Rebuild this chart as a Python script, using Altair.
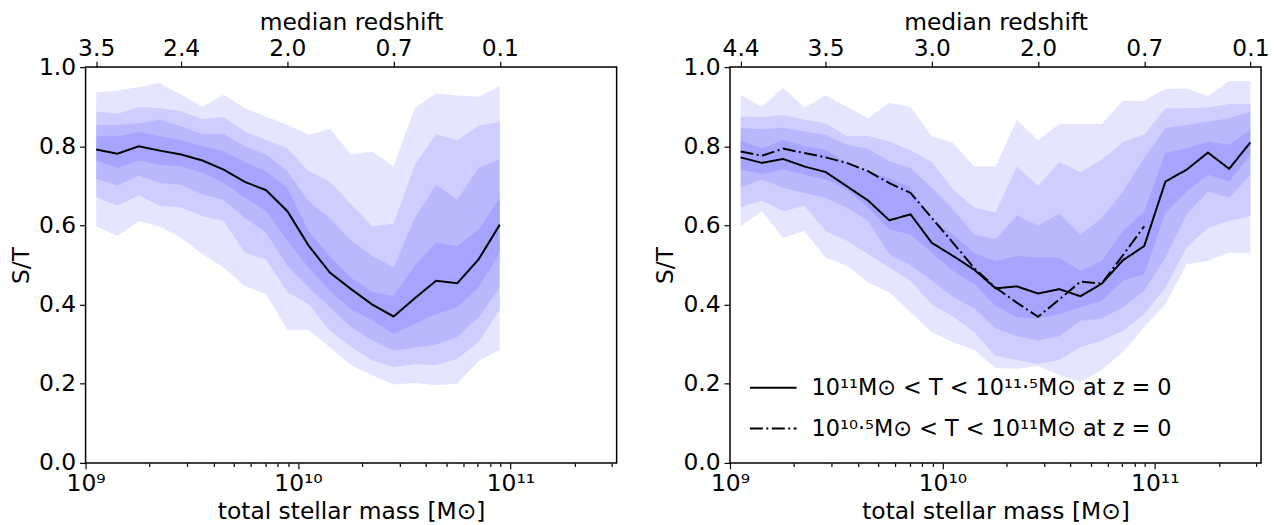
import altair as alt
import pandas as pd
import numpy as np

FONT = "DejaVu Sans"
FS = 23.5
LFS = 22.5

# ---------------- data ----------------
# log10 of total stellar mass (bin centres)
xL = [9.05, 9.15, 9.25, 9.35, 9.45, 9.55, 9.65, 9.75, 9.85, 9.95,
      10.05, 10.15, 10.25, 10.35, 10.45, 10.55, 10.65, 10.75, 10.85, 10.95]
xR = [9.05, 9.15, 9.25, 9.35, 9.45, 9.55, 9.65, 9.75, 9.85, 9.95,
      10.05, 10.15, 10.25, 10.35, 10.45, 10.55, 10.65, 10.75, 10.85, 10.95,
      11.05, 11.15, 11.25, 11.35, 11.45]

# left panel: median and percentile bands (upper/lower edges, outer -> inner)
medL = [0.792, 0.781, 0.800, 0.789, 0.779, 0.764, 0.741, 0.710, 0.689, 0.636,
        0.549, 0.481, 0.439, 0.400, 0.370, 0.416, 0.460, 0.454, 0.514, 0.602]
b1uL = [0.936, 0.941, 0.950, 0.960, 0.930, 0.900, 0.930, 0.896, 0.875, 0.854,
        0.829, 0.844, 0.779, 0.787, 0.749, 0.896, 0.934, 0.928, 0.925, 0.952]
b2uL = [0.888, 0.882, 0.899, 0.896, 0.889, 0.868, 0.874, 0.837, 0.816, 0.795,
        0.737, 0.711, 0.653, 0.598, 0.604, 0.753, 0.831, 0.815, 0.852, 0.862]
b3uL = [0.854, 0.854, 0.858, 0.867, 0.850, 0.831, 0.831, 0.800, 0.779, 0.737,
        0.661, 0.619, 0.561, 0.523, 0.494, 0.619, 0.703, 0.665, 0.745, 0.768]
b4uL = [0.825, 0.825, 0.836, 0.825, 0.815, 0.800, 0.787, 0.760, 0.737, 0.695,
        0.586, 0.523, 0.468, 0.431, 0.422, 0.498, 0.556, 0.548, 0.590, 0.670]
b4lL = [0.764, 0.745, 0.764, 0.753, 0.749, 0.733, 0.707, 0.670, 0.636, 0.561,
        0.494, 0.435, 0.388, 0.360, 0.326, 0.351, 0.376, 0.393, 0.443, 0.531]
b3lL = [0.718, 0.701, 0.726, 0.707, 0.703, 0.678, 0.665, 0.619, 0.582, 0.498,
        0.443, 0.393, 0.343, 0.309, 0.284, 0.291, 0.299, 0.318, 0.368, 0.443]
b2lL = [0.671, 0.650, 0.676, 0.650, 0.645, 0.623, 0.611, 0.531, 0.514, 0.431,
        0.401, 0.334, 0.292, 0.259, 0.242, 0.250, 0.247, 0.263, 0.305, 0.388]
b1lL = [0.598, 0.573, 0.611, 0.597, 0.569, 0.527, 0.494, 0.447, 0.426, 0.336,
        0.336, 0.292, 0.247, 0.221, 0.198, 0.202, 0.196, 0.200, 0.257, 0.286]

# right panel
medR_hi = [0.772, 0.758, 0.768, 0.749, 0.735, 0.699, 0.663, 0.613, 0.628, 0.556,
           0.523, 0.488, 0.441, 0.446, 0.428, 0.439, 0.421, 0.453, 0.512, 0.548,
           0.711, 0.741, 0.784, 0.743, 0.810]
medR_lo = [0.787, 0.776, 0.794, 0.783, 0.772, 0.758, 0.737, 0.707, 0.682, 0.619,
           0.556, 0.492, 0.443, 0.405, 0.369, 0.413, 0.458, 0.453, 0.525, 0.598]
b1uR = [0.930, 0.900, 0.948, 0.898, 0.928, 0.900, 0.871, 0.909, 0.900, 0.825,
        0.808, 0.749, 0.749, 0.867, 0.816, 0.856, 0.856, 0.856, 0.915, 0.915,
        0.945, 0.946, 0.927, 0.965, 0.965]
b2uR = [0.875, 0.873, 0.879, 0.867, 0.858, 0.826, 0.826, 0.812, 0.790, 0.760,
        0.690, 0.645, 0.632, 0.749, 0.700, 0.760, 0.735, 0.766, 0.810, 0.830,
        0.896, 0.896, 0.898, 0.907, 0.906]
b3uR = [0.846, 0.843, 0.847, 0.837, 0.829, 0.804, 0.794, 0.762, 0.745, 0.695,
        0.640, 0.577, 0.565, 0.625, 0.600, 0.630, 0.577, 0.619, 0.686, 0.770,
        0.846, 0.854, 0.862, 0.871, 0.888]
b4uR = [0.816, 0.795, 0.816, 0.800, 0.791, 0.758, 0.737, 0.720, 0.695, 0.615,
        0.577, 0.530, 0.510, 0.523, 0.519, 0.519, 0.485, 0.510, 0.586, 0.636,
        0.783, 0.795, 0.812, 0.804, 0.841]
b4lR = [0.741, 0.730, 0.741, 0.728, 0.716, 0.691, 0.645, 0.590, 0.577, 0.531,
        0.485, 0.452, 0.397, 0.368, 0.364, 0.376, 0.393, 0.409, 0.460, 0.477,
        0.632, 0.686, 0.728, 0.711, 0.779]
b3lR = [0.695, 0.716, 0.695, 0.682, 0.670, 0.645, 0.611, 0.527, 0.500, 0.460,
        0.420, 0.390, 0.340, 0.320, 0.310, 0.320, 0.359, 0.364, 0.393, 0.435,
        0.519, 0.628, 0.686, 0.670, 0.728]
b2lR = [0.646, 0.663, 0.636, 0.650, 0.586, 0.561, 0.527, 0.494, 0.460, 0.400,
        0.370, 0.330, 0.270, 0.260, 0.250, 0.260, 0.292, 0.309, 0.334, 0.376,
        0.443, 0.544, 0.594, 0.611, 0.623]
b1lR = [0.598, 0.636, 0.568, 0.586, 0.519, 0.498, 0.456, 0.431, 0.380, 0.330,
        0.305, 0.285, 0.240, 0.238, 0.245, 0.222, 0.205, 0.235, 0.280, 0.343,
        0.401, 0.502, 0.510, 0.531, 0.531]

# axis tick labels
bottom_pos = [9, 10, 11]
bottom_lab = ["10⁹", "10¹⁰", "10¹¹"]
minor_mult = [2, 3, 4, 5, 6, 7, 8, 9]
topL_pos = [9.05, 9.45, 9.95, 10.45, 10.95]
topL_lab = ["3.5", "2.4", "2.0", "0.7", "0.1"]
topR_pos = [9.05, 9.45, 9.95, 10.45, 10.95, 11.45]
topR_lab = ["4.4", "3.5", "3.0", "2.0", "0.7", "0.1"]

series_names = ["10¹¹M⊙ < T < 10¹¹·⁵M⊙ at z = 0",
                "10¹⁰·⁵M⊙ < T < 10¹¹M⊙ at z = 0"]

# ---------------- helpers ----------------
XMIN, XMAX = 9.0, 11.5
minor_pos = [float(np.log10(m * 10.0 ** e)) for e in (9, 10, 11) for m in minor_mult
             if np.log10(m * 10.0 ** e) < XMAX]


def label_expr(pos, lab):
    expr = "''"
    for p, l in reversed(list(zip(pos, lab))):
        expr = f"abs(datum.value - {p}) < 0.01 ? '{l}' : ({expr})"
    return expr


def band_frame(x, bands):
    rows = []
    for k, (lo, hi) in enumerate(bands):
        for xi, a, b in zip(x, lo, hi):
            rows.append({"logm": xi, "lo": a, "hi": b, "band": k})
    return pd.DataFrame(rows)


xs = alt.Scale(domain=[XMIN, XMAX], nice=False, zero=False)
ys = alt.Scale(domain=[0, 1], nice=False, zero=False)

common = dict(labelFont=FONT, titleFont=FONT, labelFontSize=FS, titleFontSize=FS,
              labelColor="black", titleColor="black", titleFontWeight="normal",
              tickColor="black", tickWidth=1.2, grid=False, domain=False,
              labelOverlap=False)

bottom_axis = alt.Axis(orient="bottom", values=bottom_pos,
                       labelExpr=label_expr(bottom_pos, bottom_lab),
                       title="total stellar mass [M⊙]", tickSize=6,
                       labelPadding=3, titlePadding=4, labelFlush=False, **common)
minor_axis = alt.Axis(orient="bottom", values=minor_pos, labels=False, title=None,
                      tickSize=3.5, **common)
y_axis = alt.Axis(orient="left", values=[0, 0.2, 0.4, 0.6, 0.8, 1.0], format=".1f",
                  title="S/T", tickSize=6, labelPadding=4, titlePadding=5, **common)


def top_axis(pos, lab):
    return alt.Axis(orient="top", values=pos, labelExpr=label_expr(pos, lab),
                    title="median redshift", tickSize=6, labelPadding=1,
                    titlePadding=2, labelFlush=False, **common)


def panel(x, bands, line_layer, top_pos, top_lab):
    bdf = band_frame(x, bands)
    area = alt.Chart(bdf).mark_area(color="#0000ff", opacity=0.1).encode(
        x=alt.X("logm:Q", scale=xs, axis=bottom_axis),
        y=alt.Y("lo:Q", scale=ys, axis=y_axis),
        y2="hi:Q",
        detail="band:N",
    )
    minor = alt.Chart(bdf).mark_line(opacity=0).encode(
        x=alt.X("logm:Q", scale=xs, axis=minor_axis),
        y=alt.Y("lo:Q", scale=ys, axis=None),
        detail="band:N",
    )
    top = alt.Chart(bdf).mark_line(opacity=0).encode(
        x=alt.X("logm:Q", scale=xs, axis=top_axis(top_pos, top_lab)),
        y=alt.Y("hi:Q", scale=ys, axis=None),
        detail="band:N",
    )
    return alt.layer(area, minor, top, line_layer).resolve_axis(
        x="independent", y="independent").properties(width=534, height=398)


# left panel
dfL = pd.DataFrame({"logm": xL, "st": medL})
lineL = alt.Chart(dfL).mark_line(color="black", strokeWidth=2).encode(
    x=alt.X("logm:Q", scale=xs, axis=None),
    y=alt.Y("st:Q", scale=ys, axis=None),
)
left = panel(xL, [(b1lL, b1uL), (b2lL, b2uL), (b3lL, b3uL), (b4lL, b4uL)],
             lineL, topL_pos, topL_lab)

# right panel
dfR = pd.concat([
    pd.DataFrame({"logm": xR, "st": medR_hi, "series": series_names[0]}),
    pd.DataFrame({"logm": xR[:len(medR_lo)], "st": medR_lo, "series": series_names[1]}),
])
lineR = alt.Chart(dfR).mark_line(color="black", strokeWidth=2).encode(
    x=alt.X("logm:Q", scale=xs, axis=None),
    y=alt.Y("st:Q", scale=ys, axis=None),
    strokeDash=alt.StrokeDash(
        "series:N",
        scale=alt.Scale(domain=series_names, range=[[1, 0], [13, 3.5, 2, 3.5]]),
        legend=alt.Legend(title=None, orient="none", legendX=19, legendY=298,
                          symbolType="stroke", symbolSize=2200, symbolStrokeWidth=2,
                          symbolStrokeColor="black", labelFont=FONT, labelFontSize=LFS,
                          labelColor="black", labelOffset=14, rowPadding=5,
                          labelLimit=600),
    ),
    detail="series:N",
)
right = panel(xR, [(b1lR, b1uR), (b2lR, b2uR), (b3lR, b3uR), (b4lR, b4uR)],
              lineR, topR_pos, topR_lab)

chart = alt.hconcat(left, right, spacing=35).resolve_legend(
    strokeDash="independent"
).properties(
    padding={"left": 0, "top": 0, "right": 0, "bottom": 0}
).configure(font=FONT).configure_view(stroke="black", strokeWidth=1.5)

chart.save("out.html", embed_options={"renderer": "svg", "actions": False})
